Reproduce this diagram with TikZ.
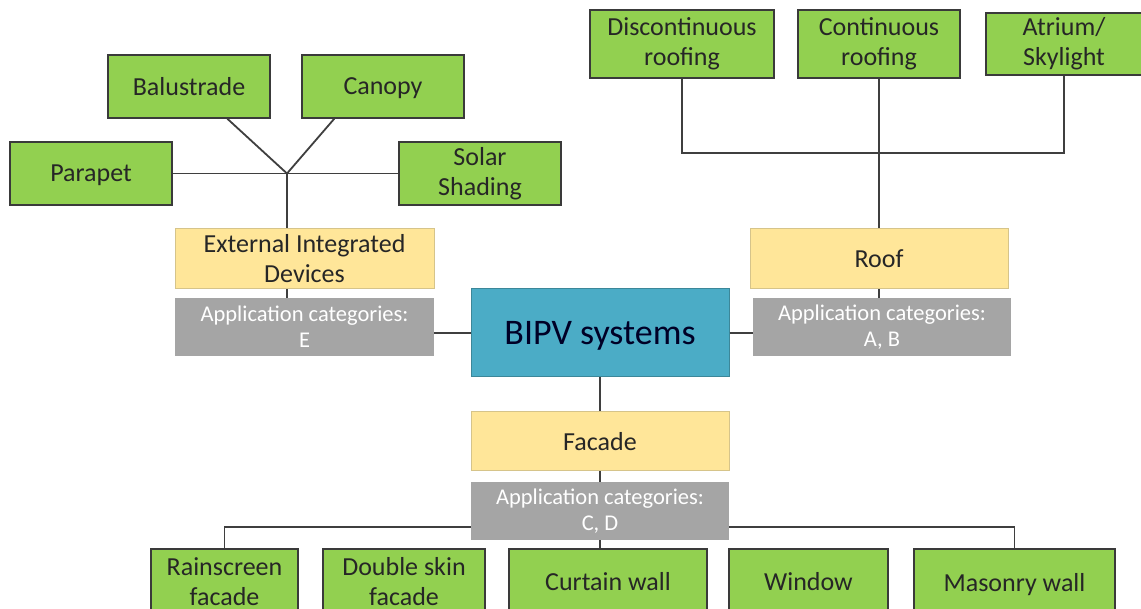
\documentclass[tikz,border=0pt]{standalone}
\usepackage{fontspec}
\setmainfont{Carlito}
\usetikzlibrary{calc}
\definecolor{grn}{HTML}{92D050}
\definecolor{grnb}{HTML}{3A3A3A}
\definecolor{yel}{HTML}{FFE699}
\definecolor{yelb}{HTML}{D6C48A}
\definecolor{gry}{HTML}{A5A5A5}
\definecolor{blu}{HTML}{4BACC6}
\definecolor{blub}{HTML}{3C8799}
\definecolor{txt}{HTML}{262626}
\definecolor{ln}{HTML}{3F3F3F}
\tikzset{
  box/.style={rectangle, inner sep=0pt, align=center, text=txt},
  leaf/.style={box, fill=grn, draw=grnb, line width=1.4pt, font=\fontsize{26}{30}\selectfont},
  cat/.style={box, fill=yel, draw=yelb, line width=1pt, font=\fontsize{26}{30}\selectfont},
  app/.style={box, fill=gry, text=white, font=\fontsize{22.5}{26}\selectfont},
  root/.style={box, fill=blu, draw=blub, line width=1pt, text=black!85!blue, font=\fontsize{36}{40}\selectfont},
  nodepth/.style={text depth=0pt},
  conn/.style={draw=ln, line width=1.8pt},
}
\begin{document}
\begin{tikzpicture}[x=1pt,y=-1pt]
\useasboundingbox (0,0) rectangle (1141,609);
\clip (0,0) rectangle (1141,609);
\fill[white] (0,0) rectangle (1141,609);
% left group
\node[leaf, minimum width=162pt, minimum height=63pt] (bal) at (189,86.5) {Balustrade};
\node[leaf, nodepth, minimum width=162pt, minimum height=63pt] (can) at (383,86.5) {Canopy};
\node[leaf, nodepth, minimum width=162pt, minimum height=63pt] (par) at (91,173.5) {Parapet};
\node[leaf, minimum width=162pt, minimum height=63pt] (sol) at (480,173.5) {Solar\\Shading};
\node[cat, minimum width=259pt, minimum height=60pt] (ext) at (304.5,259) {External Integrated\\Devices};
\node[app, minimum width=259pt, minimum height=58pt] (gE) at (304.5,327) {Application categories:\\E};
% center
\node[root, nodepth, minimum width=258pt, minimum height=88pt] (bipv) at (600,333) {BIPV systems};
% right group
\node[leaf, minimum width=184pt, minimum height=68pt] (dis) at (682,44) {Discontinuous\\roofing};
\node[leaf, minimum width=162pt, minimum height=68pt] (con) at (879,44) {Continuous\\roofing};
\node[leaf, minimum width=156pt, minimum height=62pt] (atr) at (1064,44) {Atrium/\\Skylight};
\node[cat, minimum width=258pt, minimum height=60pt] (roof) at (879,259) {Roof};
\node[app, minimum width=258pt, minimum height=58pt] (gAB) at (882,327) {Application categories:\\A, B};
% bottom group
\node[cat, minimum width=258pt, minimum height=59pt] (fac) at (600,441.5) {Facade};
\node[app, minimum width=258pt, minimum height=58pt] (gCD) at (600,511) {Application categories:\\C, D};
\node[leaf, minimum width=147pt, minimum height=66pt] (rain) at (224.5,582) {Rainscreen\\facade};
\node[leaf, minimum width=162pt, minimum height=66pt] (dbl) at (404,582) {Double skin\\facade};
\node[leaf, minimum width=198pt, minimum height=66pt] (cur) at (608,582) {Curtain wall};
\node[leaf, minimum width=159pt, minimum height=66pt] (win) at (808.5,582) {Window};
\node[leaf, nodepth, minimum width=201pt, minimum height=66pt] (mas) at (1014.5,582) {Masonry wall};
% coordinates
\coordinate (j) at (287,173.5);
\coordinate (rh) at (0,153);
\coordinate (bh) at (0,527);
% left connectors
\draw[conn] (par.east) -- (sol.west);
\draw[conn] ($(bal.south west)+(120,0)$) -- (j) -- ($(can.south west)+(33,0)$);
\draw[conn] (j) -- (j |- ext.north);
\draw[conn] (ext.south -| j) -- (gE.north -| j);
\draw[conn] (gE.east |- bipv.west) -- (bipv.west);
% right connectors
\draw[conn] (dis.south) |- (con.south |- rh) -| (atr.south);
\draw[conn] (con.south) -- (roof.north);
\draw[conn] (roof.south) -- (roof.south |- gAB.north);
\draw[conn] (bipv.east) -- (gAB.west |- bipv.east);
% bottom connectors
\draw[conn] (bipv.south) -- (fac.north);
\draw[conn] (fac.south) -- (gCD.north);
\draw[conn] (gCD.south) -- (gCD.south |- cur.north);
\draw[conn] (rain.north) |- (gCD.west |- bh);
\draw[conn] ($(dbl.north west)+(54,0)$) -- ($(dbl.north west)+(54,0)$ |- bh);
\draw[conn] (gCD.east |- bh) -| (mas.north);
\draw[conn] ($(win.north)+(-3,0)$) -- ($(win.north)+(-3,0)$ |- bh);
\end{tikzpicture}
\end{document}
